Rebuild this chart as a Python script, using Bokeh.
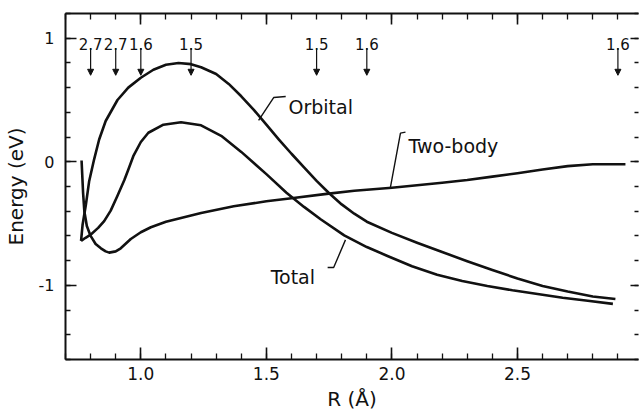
from bokeh.plotting import figure
from bokeh.models import (ColumnDataSource, FixedTicker, LinearAxis, Range1d,
                          Arrow, NormalHead, PrintfTickFormatter)
from bokeh.core.properties import value
from bokeh.embed import file_html
from bokeh.resources import INLINE

FONT = "DejaVu Sans"
INK = "#111111"

# Orbital energy contribution vs. bond length R
r_orbital = [0.762, 0.768, 0.781, 0.794, 0.814, 0.834, 0.86, 0.907, 0.95, 1.00,
             1.05, 1.10, 1.15, 1.20, 1.24, 1.30, 1.35, 1.40, 1.45, 1.50, 1.55,
             1.60, 1.65, 1.70, 1.75, 1.80, 1.85, 1.90, 2.00, 2.10, 2.20, 2.30,
             2.40, 2.50, 2.60, 2.70, 2.80, 2.89]
e_orbital = [-0.64, -0.51, -0.35, -0.16, 0.02, 0.18, 0.33, 0.50, 0.60, 0.68,
             0.745, 0.785, 0.80, 0.79, 0.765, 0.71, 0.63, 0.53, 0.42, 0.30, 0.18,
             0.065, -0.045, -0.155, -0.255, -0.345, -0.42, -0.485, -0.575, -0.655, -0.73,
             -0.805, -0.875, -0.945, -1.005, -1.05, -1.09, -1.11]

# Two-body energy contribution
r_twobody = [0.764, 0.770, 0.775, 0.785, 0.80, 0.82, 0.841, 0.86, 0.874, 0.90,
             0.92, 0.96, 1.00, 1.04, 1.10, 1.16, 1.24, 1.37, 1.50, 1.60, 1.74,
             1.85, 2.00, 2.10, 2.20, 2.30, 2.40, 2.50, 2.60, 2.70, 2.80, 2.93]
e_twobody = [0.01, -0.25, -0.40, -0.52, -0.60, -0.665, -0.70, -0.725, -0.735, -0.725,
             -0.70, -0.625, -0.57, -0.53, -0.485, -0.455, -0.415, -0.36, -0.32, -0.295, -0.26,
             -0.235, -0.21, -0.19, -0.17, -0.148, -0.12, -0.093, -0.063, -0.035, -0.02, -0.02]

# Total energy
r_total = [0.762, 0.78, 0.80, 0.83, 0.854, 0.88, 0.907, 0.934, 0.95, 0.97,
           1.00, 1.03, 1.09, 1.16, 1.24, 1.32, 1.40, 1.45, 1.50, 1.58, 1.65,
           1.716, 1.81, 1.90, 1.98, 2.08, 2.18, 2.28, 2.38, 2.48, 2.58, 2.68,
           2.78, 2.88]
e_total = [-0.64, -0.615, -0.59, -0.535, -0.48, -0.395, -0.275, -0.15, -0.065, 0.045,
           0.16, 0.235, 0.30, 0.32, 0.295, 0.21, 0.08, -0.01, -0.10, -0.25, -0.365,
           -0.465, -0.595, -0.69, -0.76, -0.845, -0.915, -0.965, -1.005, -1.04, -1.07, -1.10,
           -1.125, -1.15]

# Markers along the top: position and annotation
mark_r = [0.8, 0.9, 1.0, 1.2, 1.7, 1.9, 2.9]
mark_text = ["2.7", "2.7", "1.6", "1.5", "1.5", "1.6", "1.6"]

x_major = [1.0, 1.5, 2.0, 2.5]
x_minor = [round(0.7 + 0.1 * i, 1) for i in range(23)]
y_major = [-1, 0, 1]
y_minor = [round(-1.6 + 0.2 * i, 1) for i in range(15)]
y_tick_labels = {-1: "-1", 0: "0", 1: "1"}

p = figure(width=640, height=413,
           x_range=Range1d(0.7, 2.982), y_range=Range1d(-1.6, 1.2),
           output_backend="svg", toolbar_location=None,
           min_border_left=64, min_border_right=2,
           min_border_top=13, min_border_bottom=50,
           outline_line_color=None,
           background_fill_color="white", border_fill_color="white")
p.grid.visible = False


def style_axis(ax, label_size, major_in, minor_in, standoff):
    ax.axis_line_color = INK
    ax.axis_line_width = 2
    ax.major_tick_line_color = INK
    ax.minor_tick_line_color = INK
    ax.major_tick_line_width = 1.6
    ax.minor_tick_line_width = 1.3
    ax.major_tick_in = major_in
    ax.major_tick_out = 0
    ax.minor_tick_in = minor_in
    ax.minor_tick_out = 0
    ax.major_label_text_font = FONT
    ax.major_label_text_font_size = label_size
    ax.major_label_text_color = INK
    ax.major_label_standoff = standoff
    ax.axis_label_text_font = FONT
    ax.axis_label_text_font_style = "normal"
    ax.axis_label_text_color = INK


xt = FixedTicker(ticks=x_major, minor_ticks=x_minor)
yt = FixedTicker(ticks=y_major, minor_ticks=y_minor)

bx = p.xaxis[0]
bx.ticker = xt
bx.formatter = PrintfTickFormatter(format="%.1f")
style_axis(bx, "17px", 12, 6, 7)
bx.axis_label = "R (Å)"
bx.axis_label_text_font_size = "20px"
bx.axis_label_standoff = 4

ly = p.yaxis[0]
ly.ticker = yt
ly.major_label_overrides = y_tick_labels
style_axis(ly, "16px", 11, 5, 11)
ly.axis_label = "Energy (eV)"
ly.axis_label_text_font_size = "20px"
ly.axis_label_standoff = 8

# Tick-only frame edges on top and right
top = LinearAxis(ticker=xt, major_label_overrides={t: "" for t in x_major})
style_axis(top, "1px", 11, 6, 0)
p.add_layout(top, "above")

right = LinearAxis(ticker=yt, major_label_overrides={t: "" for t in y_major})
style_axis(right, "1px", 8, 4, 0)
right.axis_line_color = None
p.add_layout(right, "right")

# Curves
for rx, ey in ((r_orbital, e_orbital), (r_twobody, e_twobody), (r_total, e_total)):
    p.line(rx, ey, line_color=INK, line_width=2.6, line_join="round")

# Leader lines from the curve names to their curves
leaders = ColumnDataSource(dict(
    xs=[[1.577, 1.529, 1.469], [2.054, 2.034, 1.994], [1.744, 1.768, 1.815]],
    ys=[[0.528, 0.52, 0.336], [0.24, 0.232, -0.208], [-0.856, -0.856, -0.632]],
))
p.multi_line("xs", "ys", source=leaders, line_color=INK, line_width=1.4)

names = ColumnDataSource(dict(
    x=[1.588, 2.066, 1.517],
    y=[0.44, 0.128, -0.936],
    t=["Orbital", "Two-body", "Total"],
))
p.text("x", "y", text="t", source=names, text_font=value(FONT),
       text_font_size=value("19px"), text_color=INK,
       text_align="left", text_baseline="alphabetic")

# Downward arrows with their annotations along the top
mark_src = ColumnDataSource(dict(
    x=mark_r,
    y0=[0.92] * len(mark_r),
    y1=[0.70] * len(mark_r),
    ty=[0.956] * len(mark_r),
    t=mark_text,
))
p.add_layout(Arrow(end=NormalHead(size=6, fill_color=INK, line_color=INK, line_width=1),
                   x_start="x", y_start="y0", x_end="x", y_end="y1",
                   source=mark_src, line_color=INK, line_width=1.2))
p.text("x", "ty", text="t", source=mark_src, text_font=value(FONT),
       text_font_size=value("15px"), text_color=INK,
       text_align="center", text_baseline="alphabetic")

open("out.html", "w").write(file_html(p, INLINE))
